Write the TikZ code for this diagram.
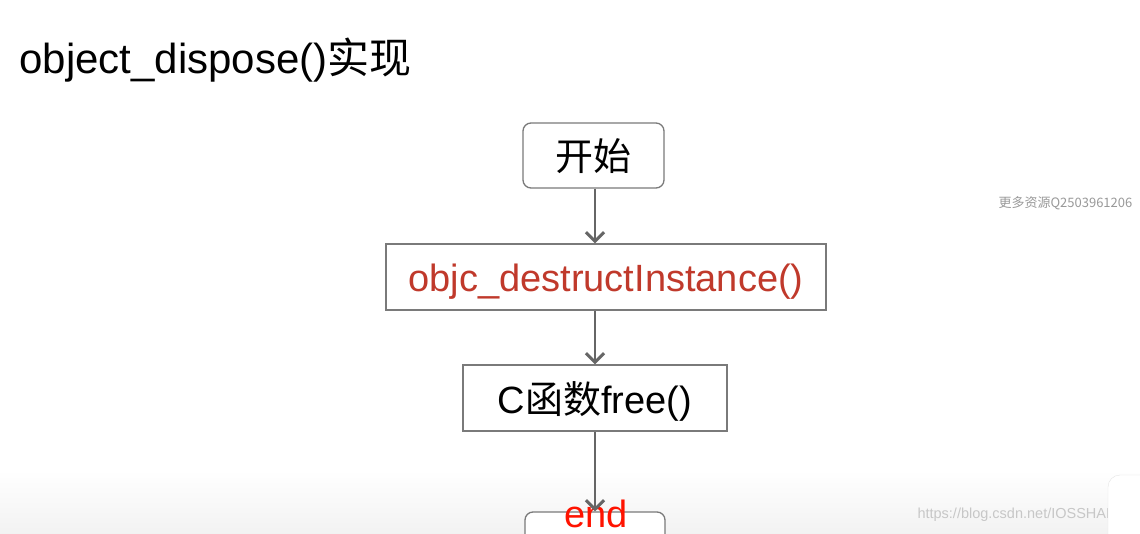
\documentclass[tikz,border=0pt]{standalone}
\usepackage{fontspec}
\setmainfont{Liberation Sans}
\newfontfamily\cjk{Noto Sans CJK SC}
\usetikzlibrary{arrows.meta}
\definecolor{edge}{HTML}{666666}
\definecolor{boxc}{HTML}{7A7A7A}
\definecolor{fnred}{HTML}{C0392B}
\tikzset{
 flowbox/.style={draw=boxc,line width=1.3bp,fill=white,inner sep=0pt},
 conn/.style={draw=edge,line width=2bp,-{Straight Barb[length=9bp,width=18bp,line width=3bp]}},
 lbl/.style={font=\fontsize{38bp}{42bp}\selectfont,text height=32bp,text depth=2bp}
}
\begin{document}
\begin{tikzpicture}[x=1bp,y=-1bp]
\useasboundingbox (0,0) rectangle (1140,534);
\begin{scope}
\clip (0,0) rectangle (1140,534);
\fill[white] (0,0) rectangle (1140,534);
\shade[top color=white,bottom color=black!5] (0,470) rectangle (1140,534);
\node[anchor=west,font=\fontsize{42bp}{46bp}\selectfont] (title) at (16,60) {object\_dispose()\cjk 实现};
\node[flowbox,rounded corners=8bp,minimum width=141bp,minimum height=65bp,lbl] (start) at (593.5,155.5) {\cjk 开始};
\node[flowbox,minimum width=440bp,minimum height=66bp,lbl,text=fnred] (destr) at (606,277) {objc\_destructInstance()};
\node[flowbox,minimum width=264bp,minimum height=66bp,lbl] (free) at (595,398) {C\cjk 函数\rmfamily free()};
\node[flowbox,rounded corners=8bp,minimum width=140bp,minimum height=60bp] (endb) at (595,542) {};
\node[lbl,text=red!85!orange,anchor=center] (endt) at (596,512) {end};
\draw[conn] (free.north |- start.south) -- (free.north |- destr.north);
\draw[conn] (free.north |- destr.south) -- (free.north);
\draw[conn] (free) -- (endb.north);
\node[text=black!40,anchor=west,font=\cjk\fontsize{13bp}{14bp}\selectfont] (wm1) at (995,203) {更多资源Q2503961206};
\node[text=black!22,anchor=west,font=\fontsize{14.5bp}{16bp}\selectfont] (wm2) at (914,515) {https://blog.csdn.net/IOSSHAN};
\draw[draw=black!10,fill=white,rounded corners=12bp] (1108,475) rectangle (1160,560);
\end{scope}
\end{tikzpicture}
\end{document}
